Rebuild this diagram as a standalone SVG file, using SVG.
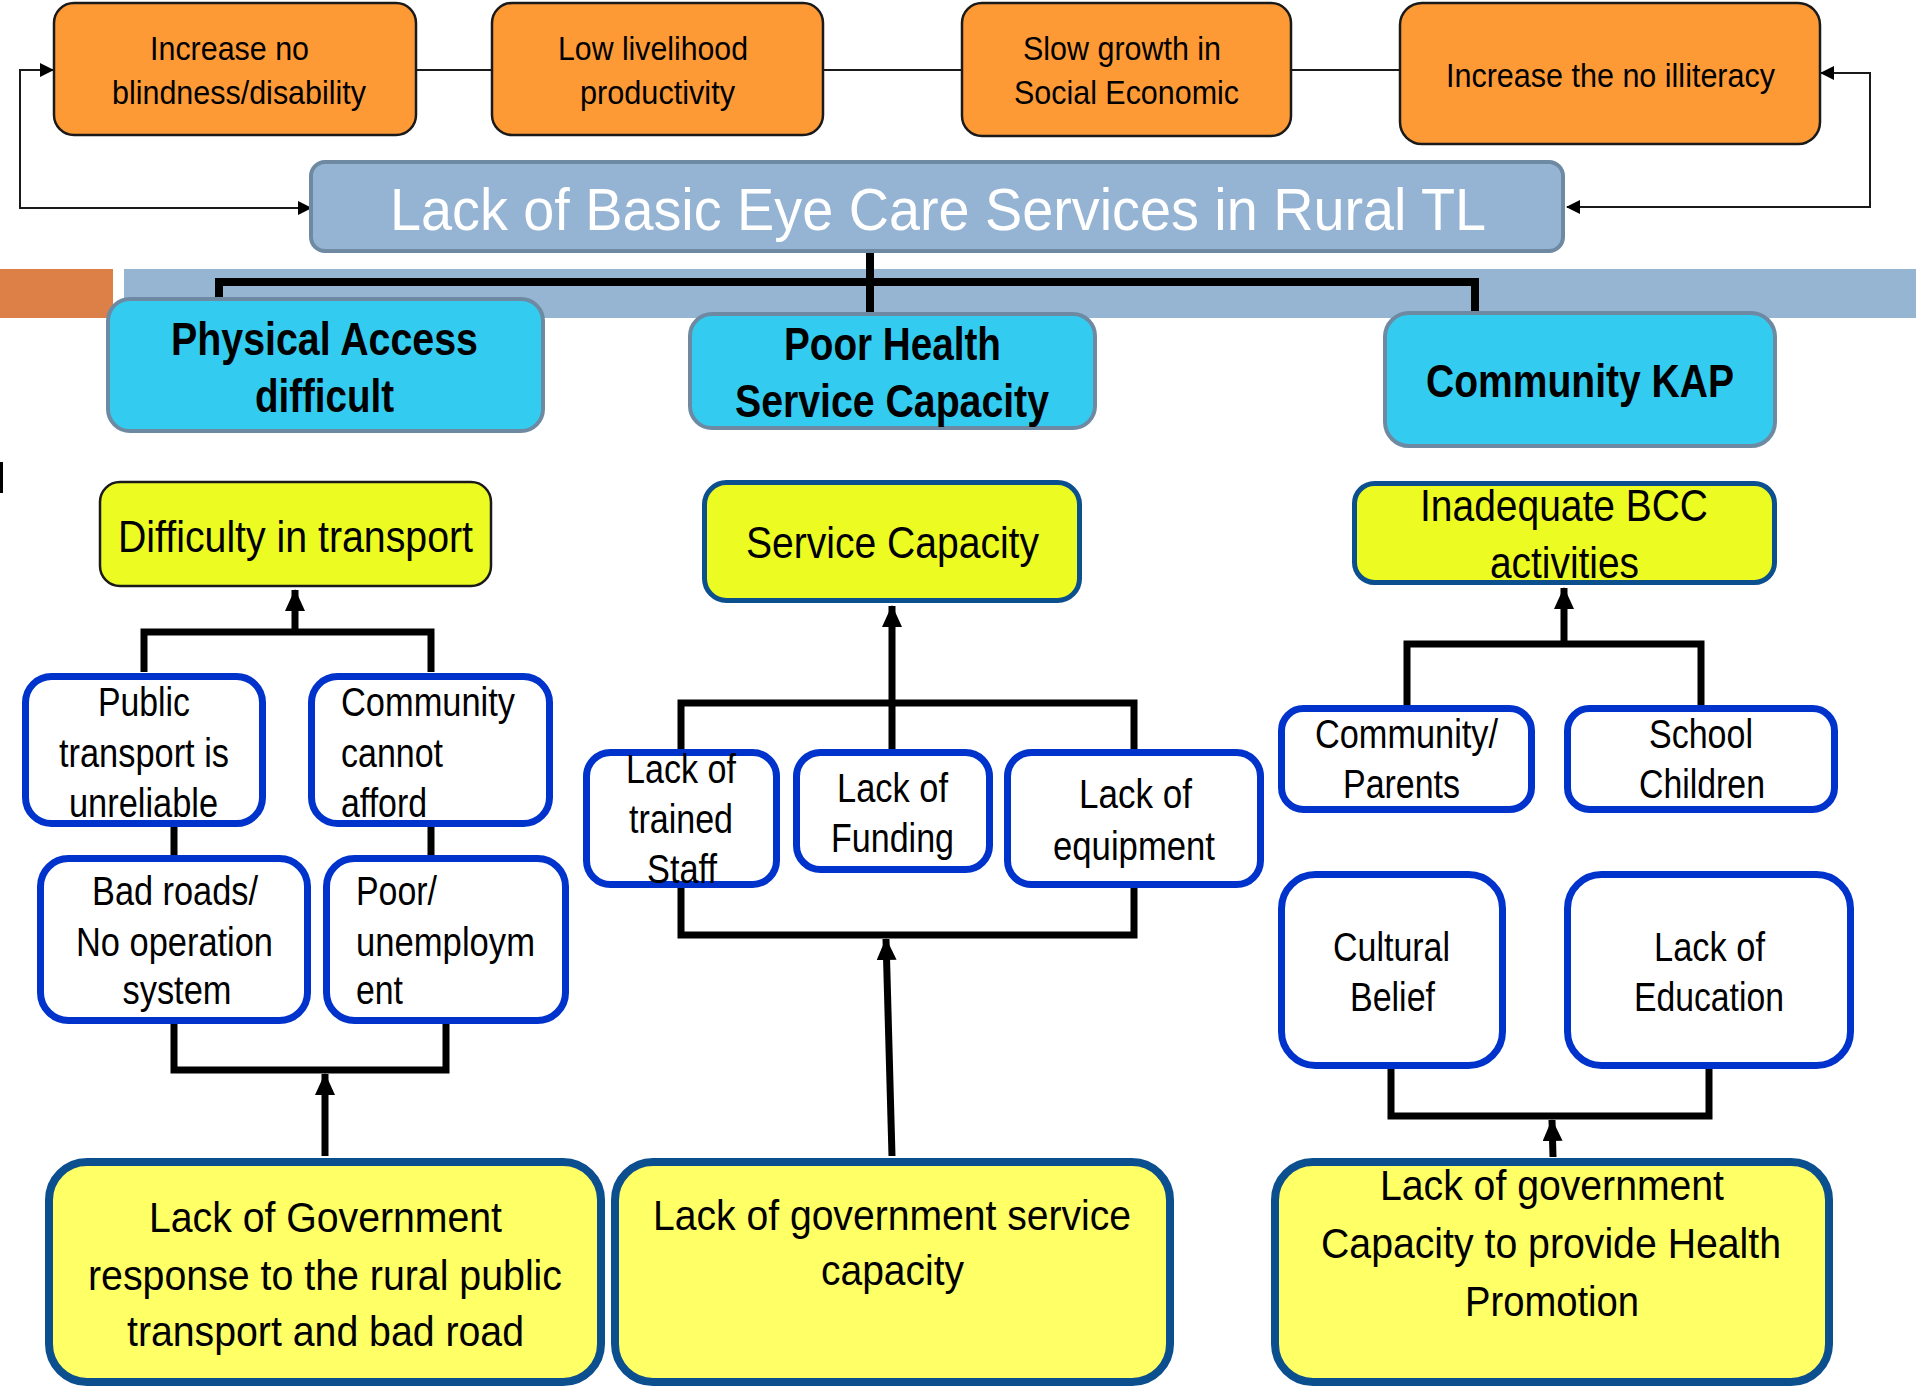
<svg xmlns="http://www.w3.org/2000/svg" width="1916" height="1388" viewBox="0 0 1916 1388">
<style>
text{font-family:"Liberation Sans Narrow","Arial Narrow","Liberation Sans",sans-serif;fill:#000;text-anchor:middle}
.l{text-anchor:start}
.orange{fill:#fd9a36;stroke:#1a1a1a;stroke-width:2.5}
.title{fill:#95b3d3;stroke:#6e8aa3;stroke-width:4}
.cyan{fill:#33ccf0;stroke:#6e8aa3;stroke-width:4}
.ymid{fill:#ecfc22;stroke:#0c4f8e;stroke-width:5}
.ymid2{fill:#ecfc22;stroke:#1a1a1a;stroke-width:2.5}
.blue{fill:#fff;stroke:#0033cc;stroke-width:7}
.ybot{fill:#ffff66;stroke:#0c4f8e;stroke-width:8}
.f34{font-size:34px}
.f60{font-size:60px;fill:#fff}
.f46{font-size:46px;font-weight:bold}
.f45{font-size:45px}
.f40{font-size:40px}
.f43{font-size:43px}
.thin{fill:none;stroke:#1a1a1a;stroke-width:2}
.thick{fill:none;stroke:#000;stroke-width:7}
</style>
<defs>
<marker id="as" viewBox="0 0 14 14" refX="13" refY="7" markerWidth="14" markerHeight="14" markerUnits="userSpaceOnUse" orient="auto-start-reverse"><path d="M0,0 L14,7 L0,14 z" fill="#000"/></marker>
<marker id="ab" viewBox="0 0 22 20" refX="21" refY="10" markerWidth="22" markerHeight="20" markerUnits="userSpaceOnUse" orient="auto"><path d="M0,0 L22,10 L0,20 z" fill="#000"/></marker>
</defs>

<g id="band">
<rect x="0" y="269" width="113" height="49" fill="#dd8048"/>
<rect x="124" y="269" width="1792" height="49" fill="#95b5d3"/>
<rect x="0" y="462" width="3" height="31" fill="#000"/>
</g>

<g id="connectors">
<path class="thin" d="M417,70 H491 M824,70 H961 M1292,70 H1399"/>
<path class="thin" d="M311,208 H20 V70 H53" marker-start="url(#as)" marker-end="url(#as)"/>
<path class="thin" d="M1567,207 H1870 V73 H1821" marker-start="url(#as)" marker-end="url(#as)"/>
<path class="thick" d="M219,299 V282 H1475 V312 M870,238 V314" style="stroke-width:8"/>
<path class="thick" d="M144,672 V632 H431 V672"/>
<path class="thick" d="M295,632 V590" marker-end="url(#ab)"/>
<path class="thick" d="M174,827 V857 M431,827 V857"/>
<path class="thick" d="M174,1024 V1070 H446 V1024"/>
<path class="thick" d="M325,1156 V1074" marker-end="url(#ab)"/>
<path class="thick" d="M681,749 V703 H1134 V749"/>
<path class="thick" d="M892,749 V606" marker-end="url(#ab)"/>
<path class="thick" d="M681,887 V935 H1134 V887"/>
<path class="thick" d="M892,1156 L886,939" marker-end="url(#ab)"/>
<path class="thick" d="M1407,706 V644 H1701 V706"/>
<path class="thick" d="M1564,644 V588" marker-end="url(#ab)"/>
<path class="thick" d="M1391,1068 V1116 H1709 V1068"/>
<path class="thick" d="M1553,1157 L1552,1120" marker-end="url(#ab)"/>
</g>

<g id="n-blindness">
<rect class="orange" x="54" y="3" width="362" height="132" rx="20"/>
<text class="f34" x="229.5" y="60" textLength="159" lengthAdjust="spacingAndGlyphs">Increase no</text>
<text class="f34" x="239" y="104" textLength="254" lengthAdjust="spacingAndGlyphs">blindness/disability</text>
</g>
<g id="n-livelihood">
<rect class="orange" x="492" y="3" width="331" height="132" rx="20"/>
<text class="f34" x="653" y="60" textLength="190" lengthAdjust="spacingAndGlyphs">Low livelihood</text>
<text class="f34" x="657.5" y="104" textLength="155" lengthAdjust="spacingAndGlyphs">productivity</text>
</g>
<g id="n-growth">
<rect class="orange" x="962" y="3" width="329" height="133" rx="20"/>
<text class="f34" x="1122" y="60" textLength="198" lengthAdjust="spacingAndGlyphs">Slow growth in</text>
<text class="f34" x="1126.5" y="104" textLength="225" lengthAdjust="spacingAndGlyphs">Social Economic</text>
</g>
<g id="n-illiteracy">
<rect class="orange" x="1400" y="3" width="420" height="141" rx="22"/>
<text class="f34" x="1610.5" y="87" textLength="329" lengthAdjust="spacingAndGlyphs">Increase the no illiteracy</text>
</g>

<g id="n-title">
<rect class="title" x="311" y="162" width="1252" height="89" rx="14"/>
<text class="f60" x="938" y="230" textLength="1096" lengthAdjust="spacingAndGlyphs">Lack of Basic Eye Care Services in Rural TL</text>
</g>

<g id="n-physical">
<rect class="cyan" x="108" y="299" width="435" height="132" rx="22"/>
<text class="f46" x="324.5" y="355" textLength="307" lengthAdjust="spacingAndGlyphs">Physical Access</text>
<text class="f46" x="324.5" y="412" textLength="139" lengthAdjust="spacingAndGlyphs">difficult</text>
</g>
<g id="n-poorhealth">
<rect class="cyan" x="690" y="314" width="405" height="114" rx="22"/>
<text class="f46" x="892.5" y="360" textLength="217" lengthAdjust="spacingAndGlyphs">Poor Health</text>
<text class="f46" x="892" y="417" textLength="314" lengthAdjust="spacingAndGlyphs">Service Capacity</text>
</g>
<g id="n-kap">
<rect class="cyan" x="1385" y="313" width="390" height="133" rx="24"/>
<text class="f46" x="1580" y="397" textLength="308" lengthAdjust="spacingAndGlyphs">Community KAP</text>
</g>

<g id="n-transport">
<rect class="ymid2" x="100" y="482" width="391" height="104" rx="20"/>
<text class="f45" x="295.5" y="552" textLength="355" lengthAdjust="spacingAndGlyphs">Difficulty in transport</text>
</g>
<g id="n-servicecap">
<rect class="ymid" x="704.5" y="482.5" width="375" height="118" rx="22"/>
<text class="f45" x="892.5" y="558" textLength="293" lengthAdjust="spacingAndGlyphs">Service Capacity</text>
</g>
<g id="n-bcc">
<rect class="ymid" x="1354.5" y="483.5" width="420" height="99" rx="20"/>
<text class="f45" x="1564" y="521" textLength="288" lengthAdjust="spacingAndGlyphs">Inadequate BCC</text>
<text class="f45" x="1564.5" y="578" textLength="149" lengthAdjust="spacingAndGlyphs">activities</text>
</g>

<g id="n-public">
<rect class="blue" x="25.5" y="676.5" width="237" height="147" rx="26"/>
<text class="f40" x="144" y="716" textLength="92" lengthAdjust="spacingAndGlyphs">Public</text>
<text class="f40" x="144" y="767" textLength="170" lengthAdjust="spacingAndGlyphs">transport is</text>
<text class="f40" x="143.5" y="817" textLength="149" lengthAdjust="spacingAndGlyphs">unreliable</text>
</g>
<g id="n-afford">
<rect class="blue" x="311.5" y="676.5" width="238" height="147" rx="26"/>
<text class="f40 l" x="341" y="716" textLength="174" lengthAdjust="spacingAndGlyphs">Community</text>
<text class="f40 l" x="341" y="767" textLength="102" lengthAdjust="spacingAndGlyphs">cannot</text>
<text class="f40 l" x="341" y="817" textLength="86" lengthAdjust="spacingAndGlyphs">afford</text>
</g>
<g id="n-roads">
<rect class="blue" x="40.5" y="858.5" width="267" height="162" rx="28"/>
<text class="f40" x="175" y="905" textLength="166" lengthAdjust="spacingAndGlyphs">Bad roads/</text>
<text class="f40" x="174.5" y="956" textLength="197" lengthAdjust="spacingAndGlyphs">No operation</text>
<text class="f40" x="177" y="1004" textLength="109" lengthAdjust="spacingAndGlyphs">system</text>
</g>
<g id="n-unemployment">
<rect class="blue" x="326.5" y="858.5" width="239" height="162" rx="28"/>
<text class="f40 l" x="356" y="905" textLength="81" lengthAdjust="spacingAndGlyphs">Poor/</text>
<text class="f40 l" x="356" y="956" textLength="179" lengthAdjust="spacingAndGlyphs">unemploym</text>
<text class="f40 l" x="356" y="1004" textLength="47" lengthAdjust="spacingAndGlyphs">ent</text>
</g>

<g id="n-staff">
<rect class="blue" x="586.5" y="752.5" width="190" height="132" rx="24"/>
<text class="f40" x="681" y="783" textLength="110" lengthAdjust="spacingAndGlyphs">Lack of</text>
<text class="f40" x="681" y="833" textLength="104" lengthAdjust="spacingAndGlyphs">trained</text>
<text class="f40" x="682" y="883" textLength="70" lengthAdjust="spacingAndGlyphs">Staff</text>
</g>
<g id="n-funding">
<rect class="blue" x="796.5" y="752.5" width="193" height="117" rx="24"/>
<text class="f40" x="892.5" y="802" textLength="111" lengthAdjust="spacingAndGlyphs">Lack of</text>
<text class="f40" x="892.5" y="852" textLength="123" lengthAdjust="spacingAndGlyphs">Funding</text>
</g>
<g id="n-equipment">
<rect class="blue" x="1007.5" y="752.5" width="253" height="132" rx="24"/>
<text class="f40" x="1135.5" y="808" textLength="113" lengthAdjust="spacingAndGlyphs">Lack of</text>
<text class="f40" x="1134" y="860" textLength="162" lengthAdjust="spacingAndGlyphs">equipment</text>
</g>

<g id="n-parents">
<rect class="blue" x="1281.5" y="708.5" width="250" height="101" rx="22"/>
<text class="f40" x="1406.5" y="748" textLength="183" lengthAdjust="spacingAndGlyphs">Community/</text>
<text class="f40" x="1401.5" y="798" textLength="117" lengthAdjust="spacingAndGlyphs">Parents</text>
</g>
<g id="n-school">
<rect class="blue" x="1567.5" y="708.5" width="267" height="101" rx="22"/>
<text class="f40" x="1701" y="748" textLength="104" lengthAdjust="spacingAndGlyphs">School</text>
<text class="f40" x="1702" y="798" textLength="126" lengthAdjust="spacingAndGlyphs">Children</text>
</g>
<g id="n-cultural">
<rect class="blue" x="1281.5" y="874.5" width="221" height="191" rx="34"/>
<text class="f40" x="1391.5" y="961" textLength="117" lengthAdjust="spacingAndGlyphs">Cultural</text>
<text class="f40" x="1392.5" y="1011" textLength="85" lengthAdjust="spacingAndGlyphs">Belief</text>
</g>
<g id="n-education">
<rect class="blue" x="1567.5" y="874.5" width="283" height="191" rx="34"/>
<text class="f40" x="1709.5" y="961" textLength="111" lengthAdjust="spacingAndGlyphs">Lack of</text>
<text class="f40" x="1709" y="1011" textLength="150" lengthAdjust="spacingAndGlyphs">Education</text>
</g>

<g id="n-govtransport">
<rect class="ybot" x="49" y="1162" width="552" height="220" rx="38"/>
<text class="f43" x="325.5" y="1232" textLength="353" lengthAdjust="spacingAndGlyphs">Lack of Government</text>
<text class="f43" x="325" y="1290" textLength="474" lengthAdjust="spacingAndGlyphs">response to the rural public</text>
<text class="f43" x="325.5" y="1346" textLength="397" lengthAdjust="spacingAndGlyphs">transport and bad road</text>
</g>
<g id="n-govservice">
<rect class="ybot" x="615" y="1162" width="555" height="220" rx="38"/>
<text class="f43" x="892" y="1230" textLength="478" lengthAdjust="spacingAndGlyphs">Lack of government service</text>
<text class="f43" x="892.5" y="1285" textLength="143" lengthAdjust="spacingAndGlyphs">capacity</text>
</g>
<g id="n-govpromotion">
<rect class="ybot" x="1275" y="1162" width="554" height="220" rx="38"/>
<text class="f43" x="1552" y="1200" textLength="344" lengthAdjust="spacingAndGlyphs">Lack of government</text>
<text class="f43" x="1551" y="1258" textLength="460" lengthAdjust="spacingAndGlyphs">Capacity to provide Health</text>
<text class="f43" x="1552" y="1316" textLength="174" lengthAdjust="spacingAndGlyphs">Promotion</text>
</g>
</svg>
